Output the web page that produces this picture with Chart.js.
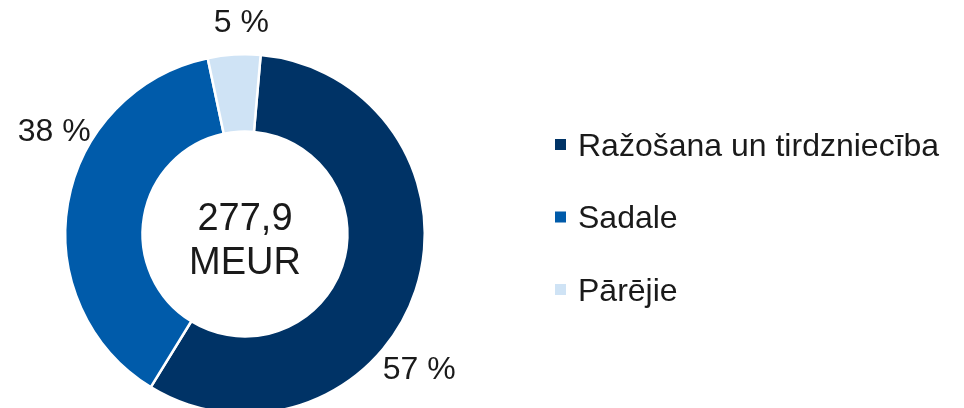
<!DOCTYPE html>
<html lang="lv">
<head>
<meta charset="utf-8">
<script src="https://cdn.jsdelivr.net/npm/chart.js@4.4.0/dist/chart.umd.min.js"></script>
<style>
  html, body { margin: 0; padding: 0; background: #fff; }
  #wrap { width: 964px; height: 408px; overflow: hidden; position: relative; }
</style>
</head>
<body>
<div id="wrap"><canvas id="chart" width="964" height="430"></canvas></div>
<script>
// dati (MEUR)
const categories = ['Ražošana un tirdzniecība', 'Sadale', 'Pārējie'];
const values = [159.5, 105.3, 13.1];
const percentLabels = ['57 %', '38 %', '5 %'];
const colors = ['#003366', '#005BAA', '#CFE3F5'];
const centerLines = ['277,9', 'MEUR'];

const FONT = '"Liberation Sans", Arial, sans-serif';
const TEXT = '#1a1a1a';

// procentu etiķetes ārpus gredzena (leņķis no augšas, attālums no centra)
const labelPlugin = {
  id: 'outerLabels',
  afterDatasetsDraw(chart, args, opts) {
    const ctx = chart.ctx;
    const arc = chart.getDatasetMeta(0).data[0];
    const cx = arc.x, cy = arc.y;
    ctx.save();
    ctx.font = `32px ${FONT}`;
    ctx.fillStyle = TEXT;
    ctx.textAlign = 'center';
    ctx.textBaseline = 'middle';
    percentLabels.forEach((txt, i) => {
      const p = opts.spots[i];
      const a = p.angle * Math.PI / 180;
      ctx.fillText(txt, cx + Math.sin(a) * p.dist, cy - Math.cos(a) * p.dist);
    });
    // centra teksts
    ctx.font = `38px ${FONT}`;
    ctx.fillText(centerLines[0], cx, cy - 14);
    ctx.fillText(centerLines[1], cx, cy + 30);
    ctx.restore();
  }
};

// leģenda labajā pusē
const legendPlugin = {
  id: 'sideLegend',
  afterDraw(chart, args, opts) {
    const ctx = chart.ctx;
    ctx.save();
    ctx.font = `32px ${FONT}`;
    ctx.textBaseline = 'middle';
    categories.forEach((name, i) => {
      const y = opts.top + i * opts.step;
      ctx.fillStyle = colors[i];
      ctx.fillRect(opts.left, y - 6, 11, 11);
      ctx.fillStyle = TEXT;
      ctx.fillText(name, opts.left + 23, y + 2);
    });
    ctx.restore();
  }
};

new Chart(document.getElementById('chart'), {
  type: 'doughnut',
  data: {
    labels: categories,
    datasets: [{
      data: values,
      backgroundColor: colors,
      borderColor: '#ffffff',
      borderWidth: 2.5
    }]
  },
  options: {
    responsive: false,
    animation: false,
    rotation: 5,
    cutout: '57%',
    layout: { padding: { left: 64, top: 53, right: 538, bottom: 15 } },
    plugins: {
      legend: { display: false },
      tooltip: { enabled: false },
      outerLabels: {
        spots: [
          { angle: 128, dist: 221 },
          { angle: 298, dist: 216 },
          { angle: -1, dist: 211 }
        ]
      },
      sideLegend: { left: 555, top: 145, step: 72.5 }
    }
  },
  plugins: [labelPlugin, legendPlugin]
});
</script>
</body>
</html>
